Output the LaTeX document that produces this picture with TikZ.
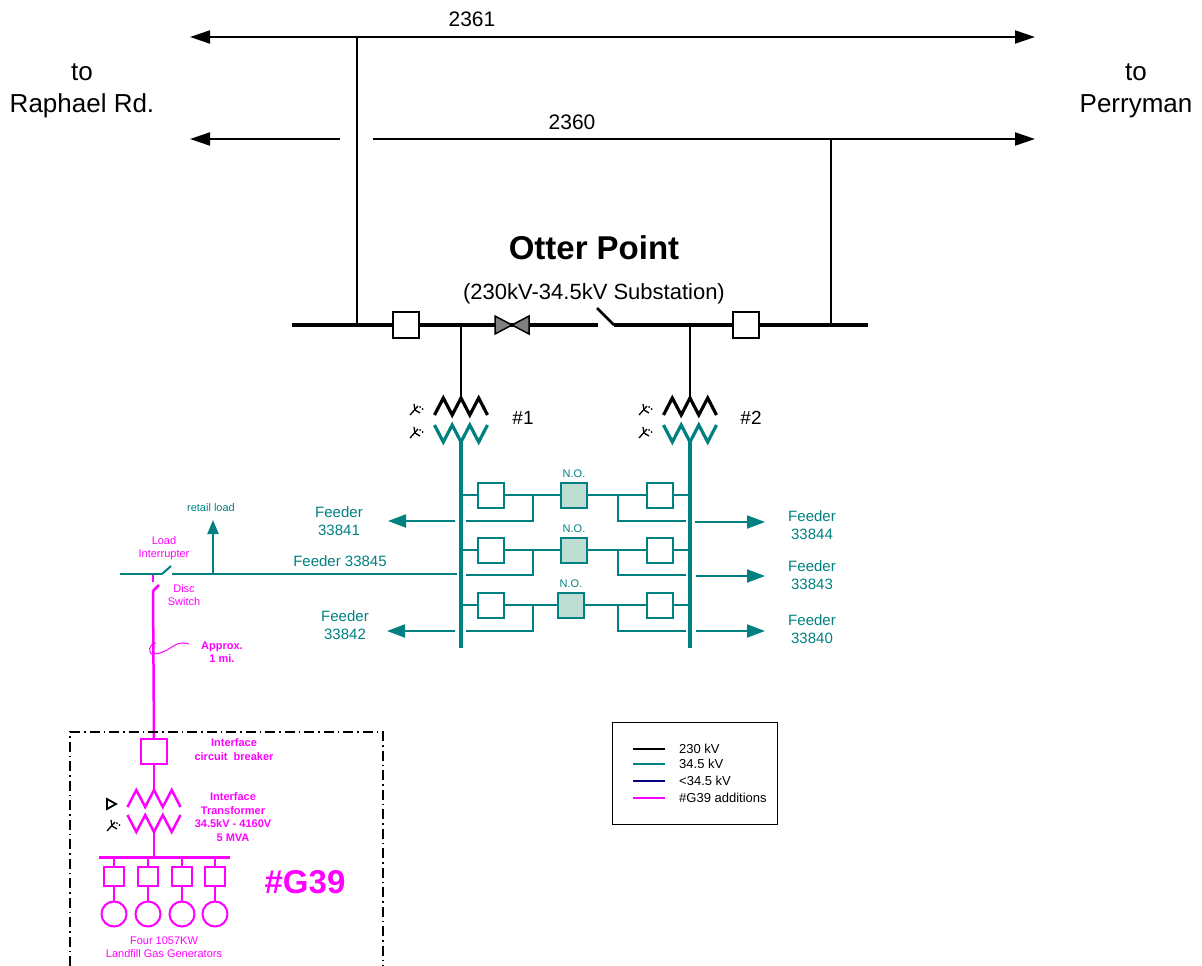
\documentclass[tikz,border=0pt]{standalone}
\usepackage{fontspec}
\setmainfont{Liberation Sans}
\usetikzlibrary{arrows.meta}
\definecolor{tealc}{RGB}{0,128,128}
\definecolor{magc}{RGB}{255,0,255}
\definecolor{nofill}{RGB}{190,222,212}
\definecolor{navyc}{RGB}{0,0,128}
\definecolor{bowgray}{RGB}{128,128,128}
\newcommand{\fsz}[2]{\fontsize{#1}{#2}\selectfont}
\tikzset{
  blk/.style={line width=2pt, draw=black},
  hvbus/.style={line width=3.5pt, draw=black},
  tl/.style={line width=2pt, draw=tealc},
  tbus/.style={line width=3.5pt, draw=tealc},
  mg/.style={line width=2.5pt, draw=magc},
  bigarrow/.style={-{Triangle[length=20pt,width=13pt]}},
  bigarrowboth/.style={{Triangle[length=20pt,width=13pt]}-{Triangle[length=20pt,width=13pt]}},
  fdarrow/.style={-{Triangle[length=18pt,width=13pt]}},
  hvbox/.style={draw=black, line width=2pt, fill=white, minimum width=26pt, minimum height=26pt, inner sep=0pt},
  tbox/.style={draw=tealc, line width=2pt, fill=white, minimum width=26pt, minimum height=25pt, inner sep=0pt},
  nobox/.style={draw=tealc, line width=2pt, fill=nofill, minimum width=26pt, minimum height=25pt, inner sep=0pt},
  mbox/.style={draw=magc, line width=2pt, fill=white, minimum width=26pt, minimum height=25pt, inner sep=0pt},
  gbox/.style={draw=magc, line width=2pt, fill=white, minimum width=20pt, minimum height=19pt, inner sep=0pt},
  ttext/.style={text=tealc, align=center, font=\fsz{15}{17.5}},
  smag/.style={text=magc, align=center, font=\fsz{11}{13}},
  bmag/.style={text=magc, align=center, font=\fsz{11}{13.5}\bfseries},
  pics/zzup/.style={code={\draw (-26.5,17)--(-17.7,0)--(-8.8,17)--(0,0)--(8.8,17)--(17.7,0)--(26.5,17);}},
  pics/zzdown/.style={code={\draw (-26.5,0)--(-17.7,17)--(-8.8,0)--(0,17)--(8.8,0)--(17.7,17)--(26.5,0);}},
  pics/gwye/.style={code={
    \draw[line width=1.3pt] (-6,5) -- (2,-4);
    \draw[line width=1.3pt] (-1,0) -- (-2,-6);
    \draw[line width=1.3pt] (-1,0) -- (4,3);
    \fill (4,-3) circle (1pt); \fill (6.5,-1) circle (1pt);}},
}
\begin{document}
\begin{tikzpicture}[x=1pt,y=-1pt]
\useasboundingbox (0,0) rectangle (1202,966);

% ---------- 230 kV lines ----------
\coordinate (l61w) at (190,37); \coordinate (l61e) at (1035,37);
\coordinate (l60w) at (190,139); \coordinate (l60gapw) at (340,139);
\coordinate (l60gape) at (373,139); \coordinate (l60e) at (1035,139);
\draw[blk, bigarrowboth] (l61w) -- (l61e);
\draw[blk, bigarrow] (l60gapw) -- (l60w);
\draw[blk, bigarrow] (l60gape) -- (l60e);
\node[anchor=base, font=\fsz{21}{25}] (t2361) at (472,27) {2361};
\node[anchor=base, font=\fsz{21}{25}] (t2360) at (572,129) {2360};
\node[anchor=base, font=\fsz{26}{30}] (tto1) at (82,81) {to};
\node[anchor=base, font=\fsz{26}{30}] (traph) at (82,112) {Raphael Rd.};
\node[anchor=base, font=\fsz{26}{30}] (tto2) at (1136,81) {to};
\node[anchor=base, font=\fsz{26}{30}] (tperry) at (1136,112) {Perryman};

\node[anchor=base, font=\fsz{33}{38}\bfseries] (totter) at (594,259) {Otter Point};
\node[anchor=base, font=\fsz{22}{26}] (tsub) at (594,299) {(230kV-34.5kV Substation)};

% ---------- bus ----------
\coordinate (busw) at (292,325); \coordinate (swl) at (598,325);
\coordinate (swr) at (614,325); \coordinate (buse) at (868,325);
\coordinate (tap61) at (357,325); \coordinate (tap60) at (831,325);
\coordinate (top61) at (357,37); \coordinate (top60) at (831,139);
\draw[blk] (top61) -- (tap61);
\draw[blk] (top60) -- (tap60);
\draw[hvbus] (busw) -- (swl);
\draw[hvbus] (swr) -- (buse);
\draw[line width=2.5pt] (597,308) -- (swr);
\node[hvbox] (cb1) at (406,325) {};
\node[hvbox] (cb2) at (746,325) {};
% circuit switcher (bow tie)
\filldraw[fill=bowgray, draw=black, line width=1.5pt] (495,316) -- (495,334) -- (512,325) -- cycle;
\filldraw[fill=bowgray, draw=black, line width=1.5pt] (529,316) -- (529,334) -- (512,325) -- cycle;

% ---------- transformers ----------
\coordinate (x1tap) at (461,325); \coordinate (x1top) at (461,398);
\coordinate (x2tap) at (690,325); \coordinate (x2top) at (690,398);
\draw[blk] (x1tap) -- (x1top);
\draw[blk] (x2tap) -- (x2top);
\pic[color=black, line width=3.2pt] at (461,398) {zzup};
\pic[color=tealc, line width=3.2pt] at (461,425) {zzdown};
\pic[color=black, line width=3.2pt] at (690,398) {zzup};
\pic[color=tealc, line width=3.2pt] at (690,425) {zzdown};
\pic at (416,410) {gwye};
\pic at (416,433) {gwye};
\pic at (645,410) {gwye};
\pic at (645,433) {gwye};
\node[anchor=base, font=\fsz{19}{23}] (tn1) at (523,424) {\#1};
\node[anchor=base, font=\fsz{19}{23}] (tn2) at (751,424) {\#2};

% ---------- 34.5 kV buses ----------
\coordinate (b1top) at (461,442); \coordinate (b1bot) at (461,648);
\coordinate (b2top) at (690,442); \coordinate (b2bot) at (690,648);
\draw[tbus] (b1top) -- (b1bot);
\draw[tbus] (b2top) -- (b2bot);

\foreach \m/\r/\nx/\i in {495/521/574/1, 550/575/574/2, 605/631/571/3}{
  \coordinate (bl\i) at (461,\m);
  \coordinate (br\i) at (690,\m);
  \coordinate (jl\i) at (533,\m);
  \coordinate (jr\i) at (618,\m);
  \coordinate (rl\i) at (533,\r);
  \coordinate (rr\i) at (618,\r);
  \coordinate (el\i) at (466,\r);
  \coordinate (er\i) at (686,\r);
  \draw[tl] (bl\i) -- (br\i);
  \draw[tl] (jl\i) -- (rl\i) -- (el\i);
  \draw[tl] (jr\i) -- (rr\i) -- (er\i);
  \node[tbox] (lb\i) at (491,\m) {};
  \node[nobox] (no\i) at (\nx,\m) {};
  \node[tbox] (rb\i) at (660,\m) {};
  \node[text=tealc, font=\fsz{11}{13}, anchor=base] (nol\i) at (\nx,\m-18) {N.O.};
}

% feeder arrows
\coordinate (f41s) at (455,521); \coordinate (f41e) at (388,521);
\coordinate (f42s) at (455,631); \coordinate (f42e) at (387,631);
\coordinate (f44s) at (695,522); \coordinate (f44e) at (765,522);
\coordinate (f43s) at (696,576); \coordinate (f43e) at (765,576);
\coordinate (f40s) at (696,631); \coordinate (f40e) at (765,631);
\draw[tl, fdarrow] (f41s) -- (f41e);
\draw[tl, fdarrow] (f42s) -- (f42e);
\draw[tl, fdarrow] (f44s) -- (f44e);
\draw[tl, fdarrow] (f43s) -- (f43e);
\draw[tl, fdarrow] (f40s) -- (f40e);
\node[ttext] (tf41) at (339,521) {Feeder\\33841};
\node[ttext] (tf42) at (345,625) {Feeder\\33842};
\node[ttext] (tf44) at (812,525) {Feeder\\33844};
\node[ttext] (tf43) at (812,575) {Feeder\\33843};
\node[ttext] (tf40) at (812,629) {Feeder\\33840};
\node[ttext] (tf45) at (340,561) {Feeder 33845};

% feeder 33845
\coordinate (f45s) at (457,574); \coordinate (lir) at (172,574);
\coordinate (lil) at (162,574); \coordinate (f45w) at (120,574);
\coordinate (lisw) at (171,566);
\coordinate (rlb) at (213,574); \coordinate (rlt) at (213,520);
\draw[tl] (f45s) -- (lir);
\draw[tl] (lil) -- (f45w);
\draw[tl] (lil) -- (lisw);
\draw[tl, -{Triangle[length=14pt,width=11pt]}] (rlb) -- (rlt);
\node[text=tealc, font=\fsz{11}{13}] (tretail) at (211,508) {retail load};
\node[smag] (tli) at (164,548) {Load\\Interrupter};
\node[smag] (tds) at (184,595) {Disc\\Switch};
\node[bmag] (tapprox) at (222,652) {Approx.\\1 mi.};

% ---------- #G39 tie line ----------
\coordinate (m0) at (153,575); \coordinate (m1) at (153,582);
\coordinate (m2) at (153,591); \coordinate (m3) at (159,585);
\draw[mg] (m0) -- (m1);
\draw[mg] (m2) -- (m3);
\node[mbox] (icb) at (154,751.5) {};
\draw[mg] (m2) -- (icb.north);
\coordinate (xgtop) at (154,790);
\draw[mg] (icb.south) -- (xgtop);
% squiggle
\draw[magc, line width=1pt] (189,644) .. controls (178,640) and (172,648) .. (165,651) .. controls (160,653) and (156,655) .. (152,653);
\draw[magc, line width=1pt] (156,643) .. controls (148,644) and (148,653) .. (153,655);

% G39 box
\draw[line width=1.2pt, dash pattern=on 10pt off 4pt on 1.5pt off 4pt] (70,966) -- (70,732) -- (383,732) -- (383,966);
\pic[color=magc, line width=2.5pt] at (154,790) {zzup};
\pic[color=magc, line width=2.5pt] at (154,815) {zzdown};
\coordinate (xgbot) at (154,832); \coordinate (gbusc) at (154,857);
\coordinate (gbusw) at (99,857); \coordinate (gbuse) at (230,857);
\draw[mg] (xgbot) -- (gbusc);
\draw[line width=3pt, draw=magc] (gbusw) -- (gbuse);
\foreach \gx/\j in {114/1,148/2,182/3,215/4}{
  \coordinate (gt\j) at (\gx,857);
  \node[gbox] (gb\j) at (\gx,876.5) {};
  \node[draw=magc, line width=2pt, circle, minimum size=25pt, inner sep=0pt] (gen\j) at (\gx,914) {};
  \draw[line width=2pt, draw=magc] (gt\j) -- (gb\j.north);
  \draw[line width=2pt, draw=magc] (gb\j.south) -- (gen\j.north);
}
% delta and grounded wye
\draw[line width=1.8pt, line join=miter] (107,799) -- (107,809) -- (116,804) -- cycle;
\pic at (113,826) {gwye};

\node[bmag] (tif1) at (234,749.5) {Interface\\circuit\ \ breaker};
\node[bmag] (tif2) at (233,817) {Interface\\Transformer\\34.5kV - 4160V\\5 MVA};
\node[smag] (tfour) at (164,947.5) {Four 1057KW\\Landfill Gas Generators};
\node[text=magc, font=\fsz{33}{38}\bfseries] (tg39) at (305,882) {\#G39};

% ---------- legend ----------
\node[draw=black, line width=1pt, minimum width=165pt, minimum height=102pt, inner sep=0pt, anchor=north west] (legend) at (612,722) {};
\foreach \ly/\lc/\lt/\k in {749/black/230 kV/1, 764/tealc/34.5 kV/2, 781/navyc/<34.5 kV/3, 798/magc/\#G39 additions/4}{
  \coordinate (lga\k) at (633,\ly); \coordinate (lgb\k) at (665,\ly);
  \draw[line width=2pt, draw=\lc] (lga\k) -- (lgb\k);
  \node[anchor=west, font=\fsz{13}{15}, inner sep=0pt] (lgt\k) at (679,\ly) {\lt};
}
\end{tikzpicture}
\end{document}
